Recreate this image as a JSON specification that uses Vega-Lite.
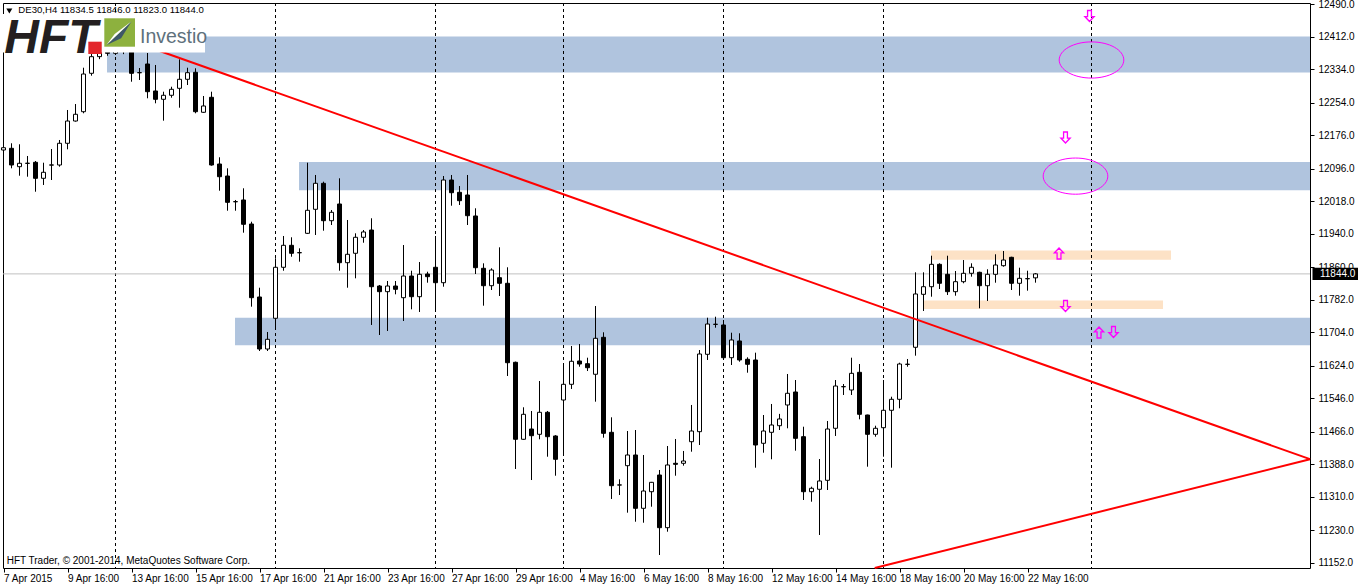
{
"$schema": "https://vega.github.io/schema/vega-lite/v6.json",
"width": 1307, "height": 565,
"autosize": {"type": "none"},
"padding": {"left": 3, "top": 3, "right": 48, "bottom": 18},
"background": "#FFFFFF",
"resolve": {"axis": {"x": "independent", "y": "independent"}},
"config": {"view": {"stroke": "#000000", "strokeWidth": 1}, "scale": {"continuousPadding": 0}, "axis": {"labelFont": "Liberation Sans", "labelFontSize": 10, "labelColor": "#000000", "tickColor": "#000000", "domain": false, "grid": false, "labelOverlap": false, "labelSeparation": 0, "labelFlush": false}},
"datasets": {
"zones": [
{"kind":"level","x1":12.94,"x2":163.3125,"top":12412,"bottom":12326},
{"kind":"level","x1":36.94,"x2":163.3125,"top":12112,"bottom":12044},
{"kind":"level","x1":28.94,"x2":163.3125,"top":11739,"bottom":11673},
{"kind":"range","x1":115.94,"x2":145.94,"top":11900,"bottom":11878},
{"kind":"range","x1":114.94,"x2":144.94,"top":11780,"bottom":11760}
],
"seps": [{"i":14},{"i":34},{"i":54},{"i":70},{"i":90},{"i":110},{"i":136}],
"trend": [
{"seg":"a","i":16,"p":12401.5},{"seg":"a","i":163.3125,"p":11400.5},
{"seg":"b","i":108.9,"p":11140},{"seg":"b","i":163.3125,"p":11400.5}
],
"ellipses": [{"i":136.0,"p":12356},{"i":134.0,"p":12078}],
"arrows": [
{"dir":"down","i":135.75,"p":12461.3},{"dir":"down","i":132.75,"p":12170.5},
{"dir":"up","i":131.94,"p":11892.8},{"dir":"down","i":132.75,"p":11767.1},
{"dir":"up","i":136.94,"p":11703.7},{"dir":"down","i":138.75,"p":11704.9}
],
"candles": [
{"i":0,"o":12140.5,"h":12172.4,"l":12112.5,"c":12146.0},
{"i":1,"o":12144.6,"h":12156.6,"l":12096.7,"c":12104.6},
{"i":2,"o":12100.6,"h":12154.2,"l":12079.0,"c":12108.7},
{"i":3,"o":12108.5,"h":12126.2,"l":12076.6,"c":12108.9},
{"i":4,"o":12111.1,"h":12114.2,"l":12040.7,"c":12072.8},
{"i":5,"o":12072.8,"h":12110.1,"l":12056.8,"c":12087.2},
{"i":6,"o":12104.4,"h":12142.9,"l":12068.7,"c":12104.8},
{"i":7,"o":12104.6,"h":12164.5,"l":12100.6,"c":12156.6},
{"i":8,"o":12156.6,"h":12236.3,"l":12142.2,"c":12209.9},
{"i":9,"o":12209.9,"h":12250.6,"l":12208.5,"c":12226.0},
{"i":10,"o":12232.2,"h":12337.5,"l":12228.4,"c":12322.4},
{"i":11,"o":12324.1,"h":12370.3,"l":12318.4,"c":12363.9},
{"i":12,"o":12364,"h":12395,"l":12358,"c":12385},
{"i":13,"o":12385,"h":12402,"l":12366,"c":12372},
{"i":14,"o":12372,"h":12398,"l":12368,"c":12390},
{"i":15,"o":12390,"h":12404,"l":12370,"c":12378},
{"i":16,"o":12378,"h":12392,"l":12304.0,"c":12324.1},
{"i":17,"o":12325.4,"h":12336.8,"l":12308.1,"c":12325.8},
{"i":18,"o":12346.4,"h":12372.7,"l":12264.3,"c":12280.1},
{"i":19,"o":12281.8,"h":12344.0,"l":12252.3,"c":12261.9},
{"i":20,"o":12261.9,"h":12280.1,"l":12210.7,"c":12271.5},
{"i":21,"o":12271.5,"h":12292.0,"l":12265.7,"c":12285.8},
{"i":22,"o":12288.2,"h":12357.6,"l":12241.8,"c":12309.8},
{"i":23,"o":12309.8,"h":12337.5,"l":12296.1,"c":12325.6},
{"i":24,"o":12326.5,"h":12336.1,"l":12228.4,"c":12232.2},
{"i":25,"o":12230.8,"h":12269.8,"l":12229.5,"c":12245.9},
{"i":26,"o":12266.7,"h":12280.1,"l":12103.0,"c":12104.6},
{"i":27,"o":12107.0,"h":12123.1,"l":12043.1,"c":12076.6},
{"i":28,"o":12078.3,"h":12096.7,"l":11995.2,"c":12015.3},
{"i":29,"o":12016.6,"h":12020.9,"l":11995.2,"c":12017.0},
{"i":30,"o":12020.9,"h":12048.9,"l":11942.6,"c":11962.7},
{"i":31,"o":11963.4,"h":11968.9,"l":11765.5,"c":11787.0},
{"i":32,"o":11788.7,"h":11810.9,"l":11659.4,"c":11664.2},
{"i":33,"o":11664.2,"h":11704.9,"l":11659.4,"c":11687.4},
{"i":34,"o":11737.7,"h":11881.3,"l":11713.8,"c":11859.8},
{"i":35,"o":11859.8,"h":11934.7,"l":11851.6,"c":11912.4},
{"i":36,"o":11912.4,"h":11931.6,"l":11885.1,"c":11893.3},
{"i":37,"o":11894.5,"h":11905.2,"l":11873.2,"c":11894.9},
{"i":38,"o":11941.1,"h":12110.1,"l":11939.5,"c":11996.2},
{"i":39,"o":11998.6,"h":12080.7,"l":11937.1,"c":12060.8},
{"i":40,"o":12060.8,"h":12064.7,"l":11947.4,"c":11971.3},
{"i":41,"o":11971.3,"h":11996.9,"l":11961.0,"c":11991.4},
{"i":42,"o":12011.3,"h":12072.8,"l":11851.6,"c":11870.8},
{"i":43,"o":11870.8,"h":11973.0,"l":11810.9,"c":11890.9},
{"i":44,"o":11893.3,"h":11941.1,"l":11833.4,"c":11931.6},
{"i":45,"o":11931.6,"h":11949.0,"l":11918.6,"c":11944.3},
{"i":46,"o":11949.0,"h":11977.1,"l":11721.7,"c":11813.3},
{"i":47,"o":11815.0,"h":11817.4,"l":11697.7,"c":11801.4},
{"i":48,"o":11801.4,"h":11827.0,"l":11707.3,"c":11815.0},
{"i":49,"o":11815.0,"h":11827.0,"l":11795.1,"c":11807.1},
{"i":50,"o":11787.0,"h":11913.1,"l":11731.2,"c":11838.9},
{"i":51,"o":11838.9,"h":11851.6,"l":11759.2,"c":11789.4},
{"i":52,"o":11789.4,"h":11872.4,"l":11752.8,"c":11843.0},
{"i":53,"o":11843.7,"h":11849.2,"l":11822.9,"c":11837.3},
{"i":54,"o":11859.8,"h":11934.7,"l":11753.5,"c":11822.9},
{"i":55,"o":11822.9,"h":12078.3,"l":11813.3,"c":12068.7},
{"i":56,"o":12068.7,"h":12080.7,"l":12007.2,"c":12038.3},
{"i":57,"o":12039.3,"h":12054.4,"l":12008.9,"c":12019.2},
{"i":58,"o":12032.8,"h":12080.7,"l":11961.0,"c":11983.3},
{"i":59,"o":11982.6,"h":12001.0,"l":11843.7,"c":11858.8},
{"i":60,"o":11857.4,"h":11869.3,"l":11767.9,"c":11815.7},
{"i":61,"o":11815.7,"h":11857.4,"l":11805.4,"c":11853.3},
{"i":62,"o":11834.9,"h":11907.6,"l":11791.1,"c":11821.5},
{"i":63,"o":11821.5,"h":11859.8,"l":11599.6,"c":11631.4},
{"i":64,"o":11632.4,"h":11634.0,"l":11377.0,"c":11448.1},
{"i":65,"o":11448.1,"h":11524.7,"l":11447.0,"c":11507.9},
{"i":66,"o":11472.7,"h":11515.8,"l":11350.6,"c":11456.7},
{"i":67,"o":11460.0,"h":11587.6,"l":11448.1,"c":11512.7},
{"i":68,"o":11512.7,"h":11515.8,"l":11406.4,"c":11454.3},
{"i":69,"o":11456.0,"h":11458.0,"l":11360.9,"c":11400.2},
{"i":70,"o":11542.1,"h":11623.5,"l":11410.5,"c":11579.7},
{"i":71,"o":11579.7,"h":11671.4,"l":11568.5,"c":11634.8},
{"i":72,"o":11635.5,"h":11676.2,"l":11621.8,"c":11628.3},
{"i":73,"o":11629.0,"h":11643.4,"l":11611.5,"c":11619.4},
{"i":74,"o":11603.7,"h":11767.1,"l":11538.1,"c":11689.8},
{"i":75,"o":11692.2,"h":11704.2,"l":11451.9,"c":11462.4},
{"i":76,"o":11464.8,"h":11500.7,"l":11305.2,"c":11337.0},
{"i":77,"o":11338.5,"h":11352.3,"l":11314.7,"c":11338.9},
{"i":78,"o":11384.9,"h":11467.9,"l":11272.4,"c":11410.5},
{"i":79,"o":11410.5,"h":11470.3,"l":11250.8,"c":11282.9},
{"i":80,"o":11282.9,"h":11410.5,"l":11248.4,"c":11324.3},
{"i":81,"o":11322.6,"h":11346.0,"l":11286.7,"c":11345.1},
{"i":82,"o":11362.6,"h":11374.6,"l":11171.1,"c":11236.5},
{"i":83,"o":11236.5,"h":11432.0,"l":11226.9,"c":11386.6},
{"i":84,"o":11390.6,"h":11448.8,"l":11360.9,"c":11388.2},
{"i":85,"o":11390.6,"h":11420.1,"l":11384.9,"c":11396.1},
{"i":86,"o":11442.3,"h":11530.2,"l":11418.4,"c":11467.9},
{"i":87,"o":11466.3,"h":11661.8,"l":11434.4,"c":11652.2},
{"i":88,"o":11651.5,"h":11739.1,"l":11637.9,"c":11724.0},
{"i":89,"o":11723.1,"h":11741.5,"l":11715.2,"c":11723.5},
{"i":90,"o":11721.7,"h":11733.6,"l":11642.0,"c":11643.4},
{"i":91,"o":11643.4,"h":11703.2,"l":11625.9,"c":11685.8},
{"i":92,"o":11683.4,"h":11701.8,"l":11633.8,"c":11637.9},
{"i":93,"o":11639.6,"h":11644.3,"l":11607.5,"c":11627.6},
{"i":94,"o":11637.9,"h":11655.4,"l":11380.1,"c":11434.4},
{"i":95,"o":11438.5,"h":11506.2,"l":11416.0,"c":11467.9},
{"i":96,"o":11464.8,"h":11532.6,"l":11400.2,"c":11482.3},
{"i":97,"o":11480.6,"h":11508.9,"l":11470.3,"c":11496.7},
{"i":98,"o":11530.2,"h":11604.4,"l":11474.4,"c":11558.2},
{"i":99,"o":11561.3,"h":11590.0,"l":11420.8,"c":11450.4},
{"i":100,"o":11454.3,"h":11478.2,"l":11302.8,"c":11322.6},
{"i":101,"o":11322.6,"h":11334.6,"l":11298.7,"c":11330.8},
{"i":102,"o":11328.4,"h":11400.9,"l":11219.0,"c":11348.3},
{"i":103,"o":11349.9,"h":11491.9,"l":11326.7,"c":11472.7},
{"i":104,"o":11474.4,"h":11590.0,"l":11456.0,"c":11575.6},
{"i":105,"o":11573.8,"h":11580.4,"l":11554.1,"c":11574.2},
{"i":106,"o":11566.1,"h":11643.4,"l":11554.1,"c":11606.0},
{"i":107,"o":11608.4,"h":11628.3,"l":11495.9,"c":11507.9},
{"i":108,"o":11506.2,"h":11507.0,"l":11382.5,"c":11460.0},
{"i":109,"o":11460.0,"h":11480.6,"l":11454.3,"c":11474.4},
{"i":110,"o":11475.8,"h":11590.0,"l":11406.4,"c":11517.5},
{"i":111,"o":11517.5,"h":11550.0,"l":11380.1,"c":11543.8},
{"i":112,"o":11543.8,"h":11631.4,"l":11522.3,"c":11628.3},
{"i":113,"o":11627.4,"h":11640.3,"l":11621.8,"c":11627.8},
{"i":114,"o":11668.3,"h":11847.8,"l":11648.2,"c":11795.9},
{"i":115,"o":11795.1,"h":11847.8,"l":11755.2,"c":11813.3},
{"i":116,"o":11813.3,"h":11887.5,"l":11789.4,"c":11866.9},
{"i":117,"o":11866.9,"h":11869.3,"l":11807.8,"c":11821.5},
{"i":118,"o":11843.0,"h":11887.5,"l":11793.5,"c":11801.4},
{"i":119,"o":11801.4,"h":11850.9,"l":11791.8,"c":11825.3},
{"i":120,"o":11825.3,"h":11877.2,"l":11821.5,"c":11845.4},
{"i":121,"o":11845.4,"h":11869.3,"l":11837.3,"c":11859.8},
{"i":122,"o":11847.8,"h":11849.2,"l":11761.6,"c":11815.7},
{"i":123,"o":11815.7,"h":11855.0,"l":11779.1,"c":11843.0},
{"i":124,"o":11843.0,"h":11890.9,"l":11822.9,"c":11865.3},
{"i":125,"o":11863.6,"h":11898.8,"l":11861.2,"c":11877.2},
{"i":126,"o":11883.7,"h":11885.0,"l":11805.4,"c":11821.5},
{"i":127,"o":11821.5,"h":11858.8,"l":11791.8,"c":11833.4},
{"i":128,"o":11832.3,"h":11851.6,"l":11803.8,"c":11832.7},
{"i":129,"o":11834.5,"h":11846.0,"l":11823.0,"c":11844.0}
]
},
"layer": [
{
"data": {"name": "zones"},
"mark": {"type": "rect"},
"encoding": {
"x": {"field": "x1", "type": "quantitative", "title": null, "scale": {"domain": [-0.0625, 163.3125], "nice": false, "zero": false, "padding": 0},
 "axis": {"orient": "bottom", "values": [0,8,16,24,32,40,48,56,64,72,80,88,96,104,112,120,128],
 "labelExpr": "['7 Apr 2015','9 Apr 16:00','13 Apr 16:00','15 Apr 16:00','17 Apr 16:00','21 Apr 16:00','23 Apr 16:00','27 Apr 16:00','29 Apr 16:00','4 May 16:00','6 May 16:00','8 May 16:00','12 May 16:00','14 May 16:00','18 May 16:00','20 May 16:00','22 May 16:00'][round(datum.value/8)]",
 "labelAlign": "left", "labelBaseline": "top", "labelPadding": 1, "labelFlush": false, "labelOverlap": false, "tickSize": 4, "title": null}},
"x2": {"field": "x2"},
"y": {"field": "top", "type": "quantitative", "title": null, "scale": {"domain": [11140, 12492.4], "nice": false, "zero": false, "padding": 0},
 "axis": {"orient": "right", "values": [12490,12412,12334,12254,12176,12096,12018,11940,11860,11782,11704,11624,11546,11466,11388,11310,11230,11152],
 "format": ".1f", "tickSize": 4, "labelPadding": 4, "labelOverlap": false, "labelFlush": false, "labelSeparation": 0, "labelBound": false, "title": null}},
"y2": {"field": "bottom"},
"color": {"field": "kind", "type": "nominal", "scale": {"domain": ["level", "range"], "range": ["#B0C4DE", "#FDE2C6"]}, "legend": null}
}
},
{
"data": {"name": "seps"},
"mark": {"type": "rule", "color": "#000000", "strokeWidth": 1, "strokeDash": [3, 3]},
"encoding": {
"x": {"field": "i", "type": "quantitative", "title": null, "axis": null, "scale": {"domain": [-0.0625, 163.3125], "nice": false, "zero": false, "padding": 0}}
}
},
{
"data": {"values": [{}]},
"mark": {"type": "rule", "color": "#C0C0C0", "strokeWidth": 1},
"encoding": {
"y": {"datum": 11844, "type": "quantitative", "title": null, "axis": null, "scale": {"domain": [11140, 12492.4], "nice": false, "zero": false, "padding": 0}}
}
},
{
"data": {"name": "candles"},
"mark": {"type": "rule", "color": "#000000", "strokeWidth": 1},
"encoding": {
"x": {"field": "i", "type": "quantitative", "title": null, "axis": null, "scale": {"domain": [-0.0625, 163.3125], "nice": false, "zero": false, "padding": 0}},
"y": {"field": "l", "type": "quantitative", "title": null, "axis": null, "scale": {"domain": [11140, 12492.4], "nice": false, "zero": false, "padding": 0}},
"y2": {"field": "h"}
}
},
{
"data": {"name": "candles"},
"mark": {"type": "bar", "size": 4, "stroke": "#000000", "strokeWidth": 1},
"encoding": {
"x": {"field": "i", "type": "quantitative", "title": null, "axis": null, "scale": {"domain": [-0.0625, 163.3125], "nice": false, "zero": false, "padding": 0}},
"y": {"field": "o", "type": "quantitative", "title": null, "axis": null, "scale": {"domain": [11140, 12492.4], "nice": false, "zero": false, "padding": 0}},
"y2": {"field": "c"},
"fill": {"condition": {"test": "datum.c >= datum.o", "value": "#FFFFFF"}, "value": "#000000"}
}
},
{
"data": {"name": "trend"},
"mark": {"type": "line", "color": "#FF0000", "strokeWidth": 2},
"encoding": {
"x": {"field": "i", "type": "quantitative", "title": null, "axis": null, "scale": {"domain": [-0.0625, 163.3125], "nice": false, "zero": false, "padding": 0}},
"y": {"field": "p", "type": "quantitative", "title": null, "axis": null, "scale": {"domain": [11140, 12492.4], "nice": false, "zero": false, "padding": 0}},
"detail": {"field": "seg", "type": "nominal"}
}
},
{
"data": {"name": "ellipses"},
"mark": {"type": "point", "filled": false, "color": "#FF00FF", "strokeWidth": 1, "opacity": 1, "size": 4173,
 "shape": "M 1 0 C 1 0.3093 0.5523 0.56 0 0.56 C -0.5523 0.56 -1 0.3093 -1 0 C -1 -0.3093 -0.5523 -0.56 0 -0.56 C 0.5523 -0.56 1 -0.3093 1 0 Z"},
"encoding": {
"x": {"field": "i", "type": "quantitative", "title": null, "axis": null, "scale": {"domain": [-0.0625, 163.3125], "nice": false, "zero": false, "padding": 0}},
"y": {"field": "p", "type": "quantitative", "title": null, "axis": null, "scale": {"domain": [11140, 12492.4], "nice": false, "zero": false, "padding": 0}}
}
},
{
"data": {"name": "arrows"},
"mark": {"type": "point", "filled": false, "color": "#FF00FF", "strokeWidth": 1.3, "opacity": 1, "size": 121},
"encoding": {
"x": {"field": "i", "type": "quantitative", "title": null, "axis": null, "scale": {"domain": [-0.0625, 163.3125], "nice": false, "zero": false, "padding": 0}},
"y": {"field": "p", "type": "quantitative", "title": null, "axis": null, "scale": {"domain": [11140, 12492.4], "nice": false, "zero": false, "padding": 0}},
"shape": {"field": "dir", "type": "nominal", "legend": null, "scale": {"domain": ["up", "down"], "range": ["M 0 -1 L 0.85 -0.1 L 0.35 -0.1 L 0.35 1 L -0.35 1 L -0.35 -0.1 L -0.85 -0.1 Z", "M 0 1 L 0.85 0.1 L 0.35 0.1 L 0.35 -1 L -0.35 -1 L -0.35 0.1 L -0.85 0.1 Z"]}}
}
},
{
"data": {"values": [{}]},
"mark": {"type": "rect", "fill": "#FFFFFF"},
"encoding": {
"x": {"datum": -0.4375, "type": "quantitative", "title": null, "axis": null, "scale": {"domain": [-0.0625, 163.3125], "nice": false, "zero": false, "padding": 0}},
"x2": {"datum": 25.19},
"y": {"datum": 12373.9, "type": "quantitative", "title": null, "axis": null, "scale": {"domain": [11140, 12492.4], "nice": false, "zero": false, "padding": 0}},
"y2": {"datum": 12466.1}
}
},
{
"data": {"values": [{}]},
"mark": {"type": "text", "text": "HFT", "align": "left", "baseline": "alphabetic", "font": "Liberation Sans", "fontSize": 48, "fontStyle": "italic", "fontWeight": "bold", "color": "#231F20"},
"encoding": {
"x": {"datum": 0.1, "type": "quantitative", "title": null, "axis": null, "scale": {"domain": [-0.0625, 163.3125], "nice": false, "zero": false, "padding": 0}},
"y": {"datum": 12373.5, "type": "quantitative", "title": null, "axis": null, "scale": {"domain": [11140, 12492.4], "nice": false, "zero": false, "padding": 0}}
}
},
{
"data": {"values": [{}]},
"mark": {"type": "rect", "fill": "#E3262B"},
"encoding": {
"x": {"datum": 10.6, "type": "quantitative", "title": null, "axis": null, "scale": {"domain": [-0.0625, 163.3125], "nice": false, "zero": false, "padding": 0}},
"x2": {"datum": 12.28},
"y": {"datum": 12370.3, "type": "quantitative", "title": null, "axis": null, "scale": {"domain": [11140, 12492.4], "nice": false, "zero": false, "padding": 0}},
"y2": {"datum": 12399.8}
}
},
{
"data": {"values": [{}]},
"mark": {"type": "rect", "fill": "#8DB13E"},
"encoding": {
"x": {"datum": 12.6, "type": "quantitative", "title": null, "axis": null, "scale": {"domain": [-0.0625, 163.3125], "nice": false, "zero": false, "padding": 0}},
"x2": {"datum": 16.44},
"y": {"datum": 12387.8, "type": "quantitative", "title": null, "axis": null, "scale": {"domain": [11140, 12492.4], "nice": false, "zero": false, "padding": 0}},
"y2": {"datum": 12455.8}
}
},
{
"data": {"values": [{}]},
"mark": {"type": "point", "filled": true, "color": "#3E5868", "opacity": 1, "size": 800, "shape": "M -0.95 0.9 L 0.85 -0.8 L 0.1 0.4 Z"},
"encoding": {
"x": {"datum": 14.52, "type": "quantitative", "title": null, "axis": null, "scale": {"domain": [-0.0625, 163.3125], "nice": false, "zero": false, "padding": 0}},
"y": {"datum": 12421.8, "type": "quantitative", "title": null, "axis": null, "scale": {"domain": [11140, 12492.4], "nice": false, "zero": false, "padding": 0}}
}
},
{
"data": {"values": [{}]},
"mark": {"type": "point", "filled": true, "color": "#FFFFFF", "opacity": 1, "size": 800, "shape": "M -0.95 0.9 L 0.85 -0.8 L -0.35 0.1 Z"},
"encoding": {
"x": {"datum": 14.52, "type": "quantitative", "title": null, "axis": null, "scale": {"domain": [-0.0625, 163.3125], "nice": false, "zero": false, "padding": 0}},
"y": {"datum": 12421.8, "type": "quantitative", "title": null, "axis": null, "scale": {"domain": [11140, 12492.4], "nice": false, "zero": false, "padding": 0}}
}
},
{
"data": {"values": [{}]},
"mark": {"type": "text", "text": "Investio", "align": "left", "baseline": "alphabetic", "font": "Liberation Sans", "fontSize": 19.5, "color": "#5E717C"},
"encoding": {
"x": {"datum": 17.06, "type": "quantitative", "title": null, "axis": null, "scale": {"domain": [-0.0625, 163.3125], "nice": false, "zero": false, "padding": 0}},
"y": {"datum": 12396.6, "type": "quantitative", "title": null, "axis": null, "scale": {"domain": [11140, 12492.4], "nice": false, "zero": false, "padding": 0}}
}
},
{
"data": {"values": [{}]},
"mark": {"type": "point", "shape": "triangle-down", "filled": true, "color": "#000000", "opacity": 1, "size": 36},
"encoding": {
"x": {"datum": 0.73, "type": "quantitative", "title": null, "axis": null, "scale": {"domain": [-0.0625, 163.3125], "nice": false, "zero": false, "padding": 0}},
"y": {"datum": 12473.2, "type": "quantitative", "title": null, "axis": null, "scale": {"domain": [11140, 12492.4], "nice": false, "zero": false, "padding": 0}}
}
},
{
"data": {"values": [{}]},
"mark": {"type": "text", "text": "DE30,H4  11834.5 11846.0 11823.0 11844.0", "align": "left", "baseline": "middle", "font": "Liberation Sans", "fontSize": 9.6, "color": "#000000"},
"encoding": {
"x": {"datum": 1.85, "type": "quantitative", "title": null, "axis": null, "scale": {"domain": [-0.0625, 163.3125], "nice": false, "zero": false, "padding": 0}},
"y": {"datum": 12475.6, "type": "quantitative", "title": null, "axis": null, "scale": {"domain": [11140, 12492.4], "nice": false, "zero": false, "padding": 0}}
}
},
{
"data": {"values": [{}]},
"mark": {"type": "text", "text": "HFT Trader, © 2001-2014, MetaQuotes Software Corp.", "align": "left", "baseline": "middle", "font": "Liberation Sans", "fontSize": 10, "color": "#000000"},
"encoding": {
"x": {"datum": 0.4, "type": "quantitative", "title": null, "axis": null, "scale": {"domain": [-0.0625, 163.3125], "nice": false, "zero": false, "padding": 0}},
"y": {"datum": 11156.8, "type": "quantitative", "title": null, "axis": null, "scale": {"domain": [11140, 12492.4], "nice": false, "zero": false, "padding": 0}}
}
},
{
"data": {"values": [{}]},
"mark": {"type": "point", "filled": true, "color": "#000000", "opacity": 1, "size": 2116, "shape": "M -1 -0.27 L 1 -0.27 L 1 0.27 L -1 0.27 Z"},
"encoding": {
"x": {"datum": 166.5, "type": "quantitative", "title": null, "axis": null, "scale": {"domain": [-0.0625, 163.3125], "nice": false, "zero": false, "padding": 0}},
"y": {"datum": 11844, "type": "quantitative", "title": null, "axis": null, "scale": {"domain": [11140, 12492.4], "nice": false, "zero": false, "padding": 0}}
}
},
{
"data": {"values": [{}]},
"mark": {"type": "text", "text": "11844.0", "align": "left", "baseline": "middle", "font": "Liberation Sans", "fontSize": 10, "color": "#FFFFFF"},
"encoding": {
"x": {"datum": 164.56, "type": "quantitative", "title": null, "axis": null, "scale": {"domain": [-0.0625, 163.3125], "nice": false, "zero": false, "padding": 0}},
"y": {"datum": 11844, "type": "quantitative", "title": null, "axis": null, "scale": {"domain": [11140, 12492.4], "nice": false, "zero": false, "padding": 0}}
}
}
]
}
